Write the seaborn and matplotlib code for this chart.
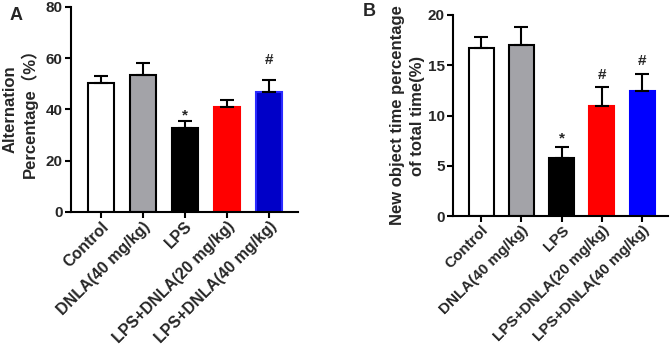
import numpy as np
import pandas as pd
import matplotlib
matplotlib.use("Agg")
import matplotlib.pyplot as plt
import seaborn as sns

# data
groups = ["Control", "DNLA(40 mg/kg)", "LPS", "LPS+DNLA(20 mg/kg)", "LPS+DNLA(40 mg/kg)"]
alt_mean = [50.5, 53.3, 32.8, 41.0, 47.0]
alt_err = [2.7, 4.7, 2.7, 2.5, 4.6]
nov_mean = [16.7, 17.0, 5.8, 10.9, 12.4]
nov_err = [1.1, 1.8, 1.1, 1.9, 1.7]
alt_marks = ["", "", "*", "", "#"]
nov_marks = ["", "", "*", "#", "#"]

colors_a = ["#ffffff", "#a3a3a8", "#000000", "#ff0000", "#0000c8"]
colors_b = ["#ffffff", "#a3a3a8", "#000000", "#ff0000", "#0000ff"]
edges_a = ["#000000", "#000000", "#000000", "#ff0000", "#2a2aff"]
edges_b = ["#000000", "#000000", "#000000", "#ff0000", "#0000ff"]

sns.set_theme(style="ticks")
plt.rcParams['font.family'] = ['Liberation Sans', 'Noto Sans CJK SC']
plt.rcParams['font.weight'] = 'bold'
plt.rcParams['axes.labelweight'] = 'bold'

fig = plt.figure(figsize=(6.71, 3.48), dpi=100)
ax_a = fig.add_axes([0.106, 0.391, 0.338, 0.589])
ax_b = fig.add_axes([0.675, 0.379, 0.321, 0.578])


def draw(ax, means, errs, marks, gaps, colors, edges, ymax, step, width, xlim, xfs):
    df = pd.DataFrame({"group": groups, "value": means})
    sns.barplot(data=df, x="group", y="value", hue="group", palette=colors,
                saturation=1, legend=False, width=width, ax=ax, errorbar=None)
    for i, p in enumerate(ax.patches):
        p.set_edgecolor(edges[i])
        p.set_linewidth(1.5)
    x = np.arange(len(groups))
    ax.errorbar(x, means, yerr=[np.zeros(len(errs)), errs], fmt="none",
                ecolor="black", elinewidth=1.5, capsize=5, capthick=1.5)
    for i, m in enumerate(marks):
        if m:
            ax.annotate(m, (x[i], means[i] + errs[i]), xytext=(0, gaps[i]),
                        textcoords="offset points", ha="center", va="baseline",
                        fontsize=11, fontweight="bold")
    ax.set_ylim(0, ymax)
    ax.set_yticks(np.arange(0, ymax + 1, step))
    ax.set_xlim(*xlim)
    ax.set_xlabel("")
    ax.set_xticks(x)
    ax.set_xticklabels(groups, rotation=45, ha="right", va="top",
                       rotation_mode="anchor", fontsize=xfs, fontweight="bold")
    for lab in ax.get_yticklabels():
        lab.set_fontsize(11)
        lab.set_fontweight("bold")
    for s in ["top", "right"]:
        ax.spines[s].set_visible(False)
    for s in ["left", "bottom"]:
        ax.spines[s].set_linewidth(1.5)
        ax.spines[s].set_color("black")
    ax.tick_params(axis="both", width=1.5, length=4, color="black", pad=2)
    ax.tick_params(axis="x", pad=1)


draw(ax_a, alt_mean, alt_err, alt_marks, [0, 0, 1, 0, 11],
     colors_a, edges_a, 80, 20, 0.64, (-0.71, 4.69), 11.5)
draw(ax_b, nov_mean, nov_err, nov_marks, [0, 0, 3, 6, 7],
     colors_b, edges_b, 20, 5, 0.62, (-0.70, 4.65), 11)

ax_a.set_ylabel("Alternation\nPercentage（%）", fontsize=12, fontweight="bold",
                linespacing=1.2, labelpad=6)
ax_b.set_ylabel("New object time percentage\nof total time(%)", fontsize=12,
                fontweight="bold", linespacing=1.4, labelpad=2)

fig.text(0.014, 0.98, "A", fontsize=13, fontweight="bold", va="top")
fig.text(0.540, 0.99, "B", fontsize=13, fontweight="bold", va="top")

fig.savefig("out.png", dpi=100)
